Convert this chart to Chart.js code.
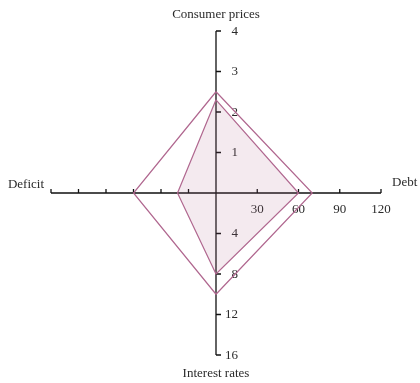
<!DOCTYPE html>
<html>
<head>
<meta charset="utf-8">
<script src="https://cdn.jsdelivr.net/npm/chart.js@4/dist/chart.umd.min.js"></script>
<style>
  html, body { margin: 0; padding: 0; background: #fff; }
  canvas { display: block; }
</style>
</head>
<body>
<canvas id="chart" width="420" height="383"></canvas>
<script>
// axes of the star plot, clockwise from the top
const categories = ['Consumer prices', 'Debt', 'Interest rates', 'Deficit'];
const axisMax = [4, 120, 16, 6];

const cpTicks = [1, 2, 3, 4];
const debtTicks = [30, 60, 90, 120];
const rateTicks = [4, 8, 12, 16];
const deficitTicks = [1, 2, 3, 4, 5, 6];

// series values, same order as categories
const seriesA = [2.3, 60, 8, 1.4];   // filled
const seriesB = [2.5, 70, 10, 3];    // outline only

const FONT = '13px "Liberation Serif", "Times New Roman", serif';
const INK = '#111';
const TEXT = '#2a2a2a';
const LINE = '#b0678f';

// each axis points in its own direction, values scaled to 0..1
const dirs = [[0, 1], [1, 0], [0, -1], [-1, 0]];
function toPoint(i, v) {
  const r = v / axisMax[i];
  return { x: dirs[i][0] * r, y: dirs[i][1] * r };
}
function polygon(values) {
  const pts = values.map((v, i) => toPoint(i, v));
  pts.push(pts[0]);
  return pts;
}

const starAxes = {
  id: 'starAxes',
  beforeDatasetsDraw(chart) {
    const { ctx, scales: { x, y } } = chart;
    const px = (i, v) => x.getPixelForValue(toPoint(i, v).x);
    const py = (i, v) => y.getPixelForValue(toPoint(i, v).y);
    const cx = x.getPixelForValue(0);
    const cy = y.getPixelForValue(0);

    ctx.save();
    ctx.strokeStyle = INK;
    ctx.lineWidth = 1.3;
    ctx.beginPath();
    // horizontal axis: deficit (left) to debt (right)
    ctx.moveTo(px(3, axisMax[3]), cy);
    ctx.lineTo(px(1, axisMax[1]), cy);
    // vertical axis: consumer prices (up) to interest rates (down)
    ctx.moveTo(cx, py(0, axisMax[0]));
    ctx.lineTo(cx, py(2, axisMax[2]));
    // tick marks
    debtTicks.forEach(t => { const p = px(1, t); ctx.moveTo(p, cy); ctx.lineTo(p, cy - 4); });
    deficitTicks.forEach(t => { const p = px(3, t); ctx.moveTo(p, cy); ctx.lineTo(p, cy - 4); });
    cpTicks.forEach(t => { const p = py(0, t); ctx.moveTo(cx, p); ctx.lineTo(cx + 5, p); });
    rateTicks.forEach(t => { const p = py(2, t); ctx.moveTo(cx, p); ctx.lineTo(cx + 5, p); });
    ctx.stroke();

    ctx.fillStyle = TEXT;
    ctx.font = FONT;
    // tick labels
    ctx.textAlign = 'center';
    ctx.textBaseline = 'alphabetic';
    debtTicks.forEach(t => ctx.fillText(String(t), px(1, t), cy + 20));
    ctx.textAlign = 'right';
    ctx.textBaseline = 'middle';
    cpTicks.forEach(t => ctx.fillText(String(t), cx + 22, py(0, t) + 0.5));
    rateTicks.forEach(t => ctx.fillText(String(t), cx + 22, py(2, t) + 0.5));

    // axis titles
    ctx.textBaseline = 'alphabetic';
    ctx.textAlign = 'center';
    ctx.fillText(categories[0], cx, py(0, axisMax[0]) - 13);
    ctx.fillText(categories[2], cx, py(2, axisMax[2]) + 22);
    ctx.textAlign = 'left';
    ctx.fillText(categories[1], px(1, axisMax[1]) + 11, cy - 7);
    ctx.textAlign = 'right';
    ctx.fillText(categories[3], px(3, axisMax[3]) - 7, cy - 5);
    ctx.restore();
  }
};

new Chart(document.getElementById('chart').getContext('2d'), {
  type: 'scatter',
  data: {
    datasets: [
      {
        label: 'A',
        data: polygon(seriesA),
        showLine: true,
        borderColor: LINE,
        backgroundColor: 'rgba(176,103,143,0.14)',
        borderWidth: 1.2,
        fill: 'shape',
        tension: 0,
        pointRadius: 0,
        clip: false
      },
      {
        label: 'B',
        data: polygon(seriesB),
        showLine: true,
        borderColor: LINE,
        backgroundColor: 'rgba(0,0,0,0)',
        borderWidth: 1.2,
        fill: false,
        tension: 0,
        pointRadius: 0,
        clip: false
      }
    ]
  },
  options: {
    responsive: false,
    animation: false,
    layout: { padding: { left: 51, right: 39, top: 31, bottom: 28 } },
    scales: {
      x: { type: 'linear', min: -1, max: 1, display: false },
      y: { type: 'linear', min: -1, max: 1, display: false }
    },
    plugins: {
      legend: { display: false },
      tooltip: { enabled: false }
    }
  },
  plugins: [starAxes]
});
</script>
</body>
</html>
